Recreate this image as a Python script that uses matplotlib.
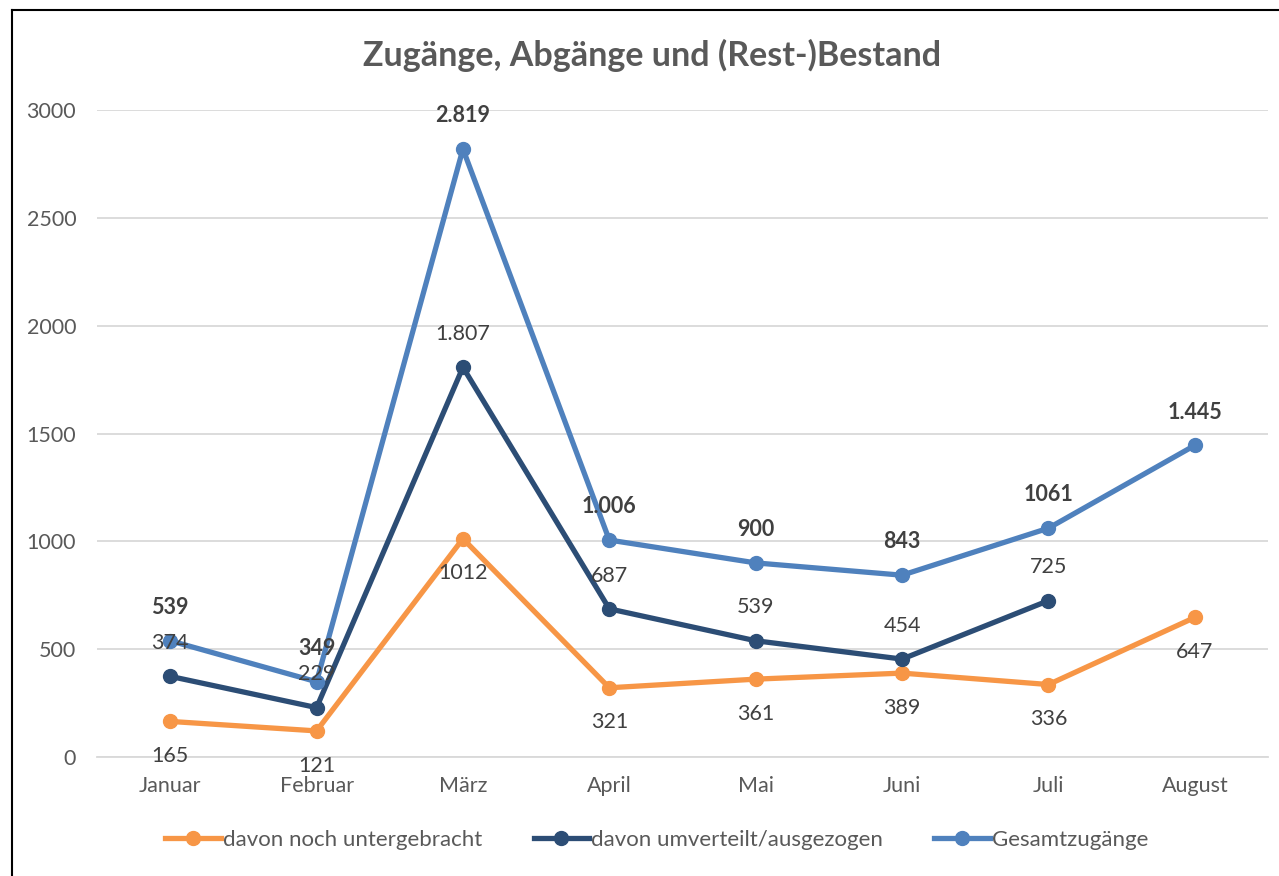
import matplotlib
matplotlib.use("Agg")
import matplotlib.pyplot as plt
from matplotlib.lines import Line2D

months = ["Januar", "Februar", "März", "April", "Mai", "Juni", "Juli", "August"]
untergebracht = [165, 121, 1012, 321, 361, 389, 336, 647]
untergebracht_labels = ["165", "121", "1012", "321", "361", "389", "336", "647"]
umverteilt = [374, 229, 1807, 687, 539, 454, 725]
umverteilt_labels = ["374", "229", "1.807", "687", "539", "454", "725"]
gesamt = [539, 349, 2819, 1006, 900, 843, 1061, 1445]
gesamt_labels = ["539", "349", "2.819", "1.006", "900", "843", "1061", "1.445"]
yticks = [0, 500, 1000, 1500, 2000, 2500, 3000]

plt.rcParams['font.family'] = ['Lato', 'DejaVu Sans']

W, H = 1279, 876
fig = plt.figure(figsize=(W / 100, H / 100), dpi=100)
ax = fig.add_axes([97 / W, 1 - 757 / H, (1268 - 97) / W, (757 - 110) / H])

c_orange = "#F79646"
c_dark = "#2C4D75"
c_light = "#4F81BD"
txt = "#404040"
tick_c = "#595959"

x = list(range(len(months)))
lw = 3.8
ms = 10
ax.plot(x, untergebracht, color=c_orange, lw=lw, marker="o", ms=ms, label="davon noch untergebracht", zorder=3)
ax.plot(x[:len(umverteilt)], umverteilt, color=c_dark, lw=lw, marker="o", ms=ms, label="davon umverteilt/ausgezogen", zorder=3)
ax.plot(x, gesamt, color=c_light, lw=lw, marker="o", ms=ms, label="Gesamtzugänge", zorder=3)

fs_lab = 15.5
for xi, v, s in zip(x, untergebracht, untergebracht_labels):
    ax.annotate(s, (xi, v), xytext=(0, -25), textcoords="offset points", ha="center", va="center",
                fontsize=fs_lab, color=txt, zorder=5)
for xi, v, s in zip(x, umverteilt, umverteilt_labels):
    ax.annotate(s, (xi, v), xytext=(0, 24), textcoords="offset points", ha="center", va="center",
                fontsize=fs_lab, color=txt, zorder=5)
for xi, v, s in zip(x, gesamt, gesamt_labels):
    ax.annotate(s, (xi, v), xytext=(0, 24), textcoords="offset points", ha="center", va="center",
                fontsize=fs_lab, color=txt, fontweight="bold", zorder=5)

ax.set_xlim(-0.5, len(months) - 0.5)
ax.set_ylim(0, 3000)
ax.set_yticks(yticks)
ax.set_yticklabels([str(t) for t in yticks])
ax.set_xticks(x)
ax.set_xticklabels(months)
ax.tick_params(axis="both", length=0, labelsize=15.5, labelcolor=tick_c)
ax.tick_params(axis="y", pad=15)
ax.tick_params(axis="x", pad=14)
ax.grid(axis="y", color="#D9D9D9", lw=1.3, zorder=0)
ax.set_axisbelow(True)
for sp in ["top", "right", "left"]:
    ax.spines[sp].set_visible(False)
ax.spines["bottom"].set_color("#D9D9D9")
ax.spines["bottom"].set_linewidth(1.3)

fig.text(652 / W, 1 - 55 / H, "Zugänge, Abgänge und (Rest-)Bestand", ha="center", va="center",
         fontsize=24.5, fontweight="bold", color="#595959")

leg = fig.legend(loc="center", bbox_to_anchor=(657 / W, 1 - 840 / H), ncol=3, frameon=False,
                 fontsize=16, handlelength=2.5, handletextpad=0.1, columnspacing=2.3,
                 labelcolor=tick_c)

# outer border (left and top)
fig.add_artist(Line2D([12 / W, 12 / W], [0, 1 - 10 / H], transform=fig.transFigure, color="black", lw=1.5))
fig.add_artist(Line2D([12 / W, 1], [1 - 10 / H, 1 - 10 / H], transform=fig.transFigure, color="black", lw=1.5))

fig.savefig("out.png", dpi=100, facecolor="white")
